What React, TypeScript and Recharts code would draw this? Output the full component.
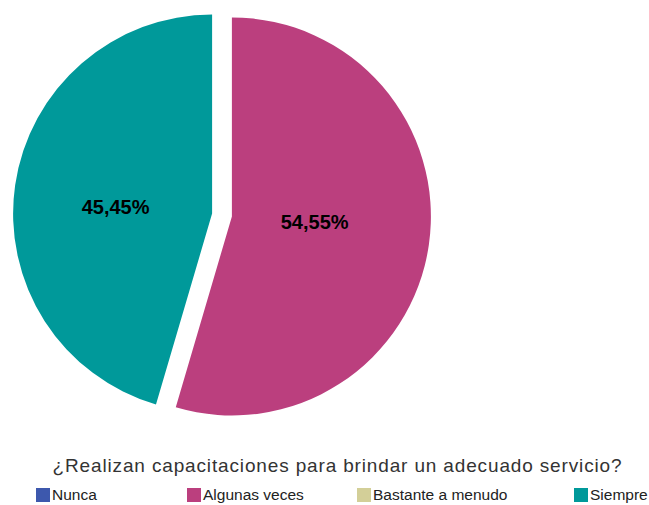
import React from "react";
import { PieChart, Pie, Cell } from "recharts";

const CATEGORIES = ["Nunca", "Algunas veces", "Bastante a menudo", "Siempre"];
const VALUES = [0, 54.55, 0, 45.45];
const COLORS = ["#3d58ad", "#bb3f7e", "#d3cf98", "#00999a"];
const TITLE = "¿Realizan capacitaciones para brindar un adecuado servicio?";

const W = 649;
const H = 505;
const BASE_CX = 222;
const BASE_CY = 215;
const RADIUS = 199;
const EXPLODE = 10;

// legend x positions (square left edge)
const LEGEND_X = [36, 187, 357, 574];

const data = CATEGORIES.map((name, i) => ({ name, value: VALUES[i] }));
const total = VALUES.reduce((a, b) => a + b, 0);

// mid angle (degrees, recharts convention: 90 = top, decreasing clockwise)
function midAngleOf(idx: number) {
  const before = VALUES.slice(0, idx).reduce((a, b) => a + b, 0);
  const start = 90 - (before / total) * 360;
  const sweep = (VALUES[idx] / total) * 360;
  return start - sweep / 2;
}

const RAD = Math.PI / 180;

function fmt(p: number) {
  return (p * 100).toFixed(2).replace(".", ",") + "%";
}

function makeLabel(visible: number, k: number) {
  return (props: any) => {
    const { cx, cy, midAngle, outerRadius, index, percent } = props;
    if (index !== visible) return null;
    const r = outerRadius * k;
    const x = cx + r * Math.cos(-midAngle * RAD);
    const y = cy + 0.5 * r * Math.sin(-midAngle * RAD);
    return (
      <text
        x={x}
        y={y}
        textAnchor="middle"
        dominantBaseline="central"
        fontSize={20}
        fontWeight="bold"
        fontFamily="'Liberation Sans', Arial, sans-serif"
        fill="#000"
      >
        {fmt(percent)}
      </text>
    );
  };
}

function SlicePie({ idx, k }: { idx: number; k: number }) {
  const mid = midAngleOf(idx);
  const cx = BASE_CX + EXPLODE * Math.cos(mid * RAD);
  const cy = BASE_CY - EXPLODE * Math.sin(mid * RAD);
  return (
    <Pie
      data={data}
      dataKey="value"
      nameKey="name"
      cx={cx}
      cy={cy}
      outerRadius={RADIUS}
      startAngle={90}
      endAngle={-270}
      stroke="none"
      labelLine={false}
      label={makeLabel(idx, k)}
      isAnimationActive={false}
    >
      {data.map((_, i) => (
        <Cell key={i} fill={i === idx ? COLORS[i] : "none"} stroke="none" />
      ))}
    </Pie>
  );
}

export default function App() {
  return (
    <div
      style={{
        position: "absolute",
        left: 0,
        top: 0,
        width: W,
        height: H,
        background: "#fff",
        fontFamily: "'Liberation Sans', Arial, sans-serif",
      }}
    >
      <PieChart width={W} height={H} margin={{ top: 0, right: 0, bottom: 0, left: 0 }}>
        {SlicePie({ idx: 1, k: 0.42 })}
        {SlicePie({ idx: 3, k: 0.49 })}
      </PieChart>
      <div
        style={{
          position: "absolute",
          left: 0,
          width: W,
          top: 455,
          textAlign: "center",
          fontSize: 19,
          letterSpacing: 0.85,
          color: "#333",
          paddingLeft: 26,
          boxSizing: "border-box",
          lineHeight: "22px",
          whiteSpace: "nowrap",
        }}
      >
        {TITLE}
      </div>
      {CATEGORIES.map((c, i) => (
        <div
          key={c}
          style={{
            position: "absolute",
            left: LEGEND_X[i],
            top: 487,
            display: "flex",
            alignItems: "center",
            fontSize: 15.5,
            color: "#222",
            lineHeight: "16px",
            whiteSpace: "nowrap",
          }}
        >
          <span
            style={{
              display: "inline-block",
              width: 14,
              height: 14,
              background: COLORS[i],
              marginRight: 2,
            }}
          />
          {c}
        </div>
      ))}
    </div>
  );
}
